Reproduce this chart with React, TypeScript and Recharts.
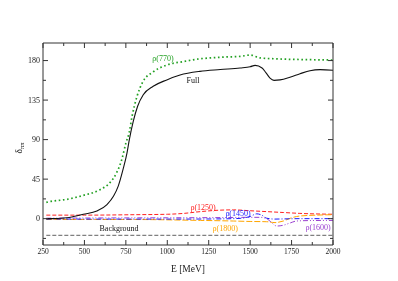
import { LineChart, Line, XAxis, YAxis, ReferenceDot } from 'recharts'

// ρ(770) contribution (green dotted)
const rho770E = [270, 280, 395, 493, 594, 654, 695, 725, 751, 770, 787, 817, 853, 914, 998, 1095, 1197, 1258, 1340, 1439, 1500, 1560, 1680, 1861, 2000]
const rho770V = [18.5, 19, 22, 26.5, 33, 41, 52.6, 67, 86.6, 98, 116, 139, 156, 167, 175, 178.8, 182, 183, 184, 184.7, 186.3, 183, 181.8, 181, 180.6]

// full phase (black solid)
const fullE = [270, 280, 395, 493, 575, 636, 676, 704, 733, 757, 771, 795, 821, 855, 915, 997, 1077, 1197, 1320, 1439, 1500, 1530, 1572, 1596, 1620, 1644, 1680, 1740, 1801, 1861, 1922, 2000]
const fullV = [0, 0, 1, 5, 8.6, 16, 25.7, 37, 56, 75, 90, 111, 128, 141, 150.7, 158, 163.5, 167.7, 169.8, 171.6, 173, 174.5, 171.6, 166, 160, 157.5, 158, 161, 165, 168.5, 169.7, 169]

// ρ(1250) (red dashed)
const rho1250E = [270, 500, 800, 1000, 1100, 1200, 1300, 1400, 1500, 1600, 1700, 1800, 2000]
const rho1250V = [4, 4, 4.5, 5, 6, 8, 9.5, 10, 9, 8, 7, 6, 5]

// ρ(1450) (blue dash-dot)
const rho1450E = [270, 600, 1000, 1300, 1440, 1500, 1540, 1570, 1600, 1650, 1700, 1800, 2000]
const rho1450V = [-0.5, -0.5, -0.5, -0.3, 0.3, 2.5, 5.5, 4, 0.5, -0.5, -0.3, 0, 0]

// ρ(1600) (purple dash-dot-dot)
const rho1600E = [270, 600, 1000, 1300, 1500, 1560, 1600, 1630, 1660, 1700, 1740, 1780, 1850, 2000]
const rho1600V = [0.5, 0.8, 1, 1.2, 1.5, 1.5, 0, -4.6, -8.4, -7.5, -5, -2.7, -2.2, -2]

// ρ(1800) (orange dashed)
const rho1800E = [270, 800, 1200, 1400, 1500, 1600, 1650, 1700, 1750, 1800, 1900, 2000]
const rho1800V = [-1, -1, -2, -2.7, -3.2, -3.5, -4.5, -2.7, 1, 3, 4, 4.5]

// background (gray dashed)
const bgE = [270, 2000]
const bgV = [-19, -19]

const xTicks = [250, 375, 500, 625, 750, 875, 1000, 1125, 1250, 1375, 1500, 1625, 1750, 1875, 2000]
const yTicks = [-22.5, 0, 22.5, 45, 67.5, 90, 112.5, 135, 157.5, 180]

const toRows = (es: number[], vs: number[]) => es.map((e, i) => ({ e, v: vs[i] }))

const series = [
  { name: 'rho770', data: toRows(rho770E, rho770V), color: '#22a022', dash: '1.6 2.6', width: 1.7 },
  { name: 'bg', data: toRows(bgE, bgV), color: '#808080', dash: '4 2', width: 1.4 },
  { name: 'rho1250', data: toRows(rho1250E, rho1250V), color: '#ff2020', dash: '4 2', width: 1 },
  { name: 'rho1800', data: toRows(rho1800E, rho1800V), color: '#ffa500', dash: '6 2', width: 1 },
  { name: 'rho1600', data: toRows(rho1600E, rho1600V), color: '#9a40d0', dash: '5 2 1 2 1 2', width: 1 },
  { name: 'rho1450', data: toRows(rho1450E, rho1450V), color: '#1a1aff', dash: '5 2 1 2', width: 1 },
  { name: 'full', data: toRows(fullE, fullV), color: '#111111', dash: undefined, width: 1.1 },
]

const notes = [
  { e: 974, v: 183, text: 'ρ(770)', color: '#22a022' },
  { e: 1155, v: 158, text: 'Full', color: '#111111' },
  { e: 1216, v: 13, text: 'ρ(1250)', color: '#ff2020' },
  { e: 1427, v: 6, text: 'ρ(1450)', color: '#1a1aff' },
  { e: 1350, v: -11, text: 'ρ(1800)', color: '#ffa500' },
  { e: 1910, v: -10, text: 'ρ(1600)', color: '#9a40d0' },
  { e: 709, v: -11, text: 'Background', color: '#111111' },
]

const axisColor = '#333'

const BottomTick = (props: any) => {
  const { x, y, payload } = props
  const major = payload.value % 250 === 0
  return (
    <g>
      <line x1={x} y1={y} x2={x} y2={y - (major ? 5 : 3)} stroke={axisColor} />
      {major && (
        <text x={x} y={y + 9} textAnchor="middle" fontSize={7.5} fill="#222">
          {payload.value}
        </text>
      )}
    </g>
  )
}

const TopTick = (props: any) => {
  const { x, y, payload } = props
  const major = payload.value % 250 === 0
  return <line x1={x} y1={y} x2={x} y2={y + (major ? 5 : 3)} stroke={axisColor} />
}

const LeftTick = (props: any) => {
  const { x, y, payload } = props
  const major = payload.value % 45 === 0
  return (
    <g>
      <line x1={x} y1={y} x2={x + (major ? 5 : 3)} y2={y} stroke={axisColor} />
      {major && (
        <text x={x - 3} y={y + 2.8} textAnchor="end" fontSize={8} fill="#222">
          {payload.value}
        </text>
      )}
    </g>
  )
}

const RightTick = (props: any) => {
  const { x, y, payload } = props
  const major = payload.value % 45 === 0
  return <line x1={x} y1={y} x2={x - (major ? 5 : 3)} y2={y} stroke={axisColor} />
}

const YTitle = (props: any) => {
  const { viewBox } = props
  const cx = viewBox.x + 22
  const cy = viewBox.y + viewBox.height / 2 + 4
  return (
    <text x={cx} y={cy} transform={`rotate(-90 ${cx} ${cy})`} textAnchor="middle" fontSize={9.5} fill="#222">
      δ<tspan fontSize={6.5} dy={2}>ππ</tspan>
    </text>
  )
}

export default function App() {
  return (
    <div
      style={{
        position: 'absolute',
        left: 0,
        top: 0,
        fontFamily: '"Liberation Serif", serif',
        willChange: 'transform',
        background: '#fff',
      }}
    >
      <LineChart width={398} height={281} margin={{ top: 42, right: 64, bottom: 0, left: 0 }}>
        <XAxis
          xAxisId={0}
          dataKey="e"
          type="number"
          domain={[250, 2000]}
          ticks={xTicks}
          interval={0}
          tickSize={0}
          tickMargin={0}
          tick={BottomTick}
          stroke={axisColor}
          height={36}
          allowDuplicatedCategory={false}
          label={{ value: 'E [MeV]', position: 'insideBottom', offset: 9, fontSize: 9.5, fill: '#222' }}
        />
        <XAxis
          xAxisId="top"
          orientation="top"
          dataKey="e"
          type="number"
          domain={[250, 2000]}
          ticks={xTicks}
          interval={0}
          tickSize={0}
          tickMargin={0}
          tick={TopTick}
          stroke={axisColor}
          height={1}
          allowDuplicatedCategory={false}
        />
        <YAxis
          yAxisId={0}
          type="number"
          domain={[-30, 200]}
          ticks={yTicks}
          interval={0}
          tickSize={0}
          tickMargin={0}
          tick={LeftTick}
          stroke={axisColor}
          width={43}
          allowDataOverflow
          label={{ content: YTitle }}
        />
        <YAxis
          yAxisId="right"
          orientation="right"
          type="number"
          domain={[-30, 200]}
          ticks={yTicks}
          interval={0}
          tickSize={0}
          tickMargin={0}
          tick={RightTick}
          stroke={axisColor}
          width={1}
          allowDataOverflow
        />
        {/* invisible copy of the background line so the mirror axes get drawn */}
        <Line
          xAxisId="top"
          yAxisId="right"
          data={toRows(bgE, bgV)}
          dataKey="v"
          stroke="none"
          dot={false}
          activeDot={false}
          isAnimationActive={false}
        />
        {series.map(s => (
          <Line
            key={s.name}
            data={s.data}
            dataKey="v"
            type="monotone"
            stroke={s.color}
            strokeWidth={s.width}
            strokeDasharray={s.dash}
            dot={false}
            activeDot={false}
            isAnimationActive={false}
          />
        ))}
        {notes.map(n => (
          <ReferenceDot
            key={n.text}
            x={n.e}
            y={n.v}
            r={0}
            fill="none"
            stroke="none"
            label={{ value: n.text, position: 'center', fontSize: 8, fill: n.color }}
          />
        ))}
      </LineChart>
    </div>
  )
}
